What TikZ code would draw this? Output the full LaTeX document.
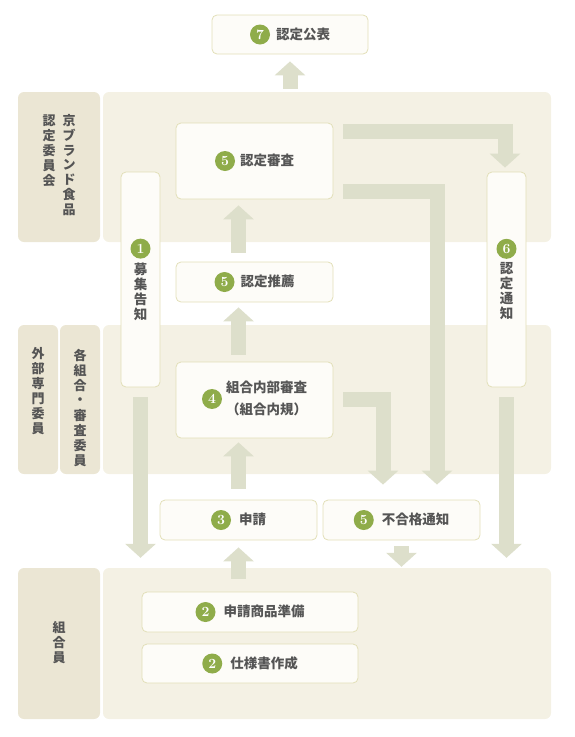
\documentclass[tikz,border=0pt]{standalone}
\usepackage{fontspec}
\newfontfamily\jpfont{Noto Sans CJK JP}
\usetikzlibrary{arrows.meta,positioning,calc}
\definecolor{bandBg}{RGB}{244,241,228}
\definecolor{labelBg}{RGB}{235,230,212}
\definecolor{flowGray}{RGB}{221,223,203}
\definecolor{boxLine}{RGB}{226,223,184}
\definecolor{boxFill}{RGB}{253,252,248}
\definecolor{leafGreen}{RGB}{143,172,74}
\definecolor{inkGray}{RGB}{85,85,85}
\newcommand{\badge}[1]{\tikz[baseline=(b.base)]\node[circle, fill=leafGreen,
  text=white, inner sep=0pt, minimum size=20pt,
  font=\rmfamily\fontsize{14}{14}\selectfont] (b) {#1};}
\newcommand{\vtext}[1]{\begin{tabular}[t]{@{}c@{}}#1\end{tabular}}

\begin{document}
\begin{tikzpicture}[x=1pt, y=-1pt,
  band/.style={rectangle, rounded corners=6pt, fill=bandBg, inner sep=0pt},
  lab/.style={rectangle, rounded corners=6pt, fill=labelBg, inner sep=0pt},
  labtxt/.style={inner sep=0pt, anchor=north, text=inkGray,
                 font=\jpfont\bfseries\fontsize{13}{14}\selectfont},
  stepbox/.style={rectangle, rounded corners=5pt, draw=boxLine,
                  line width=0.8pt, fill=boxFill, inner sep=0pt,
                  align=center, text=inkGray,
                  font=\jpfont\bfseries\fontsize{13.5}{15}\selectfont},
  flow/.style={draw=flowGray, line width=15pt, line join=miter,
               -{Triangle[length=14pt,width=30pt]}}
]
  \useasboundingbox (0,0) rectangle (575,737);
  % bands
  \node[band, minimum width=448, minimum height=150] (band1) at (327,167) {};
  \node[band, minimum width=448, minimum height=149] (band2) at (327,399.5) {};
  \node[band, minimum width=448, minimum height=151] (band3) at (327,643.5) {};
  \node[lab, minimum width=82, minimum height=150] (lab1) at (59,167) {};
  \node[lab, minimum width=40, minimum height=149] (lab2a) at (38,399.5) {};
  \node[lab, minimum width=40, minimum height=149] (lab2b) at (80,399.5) {};
  \node[lab, minimum width=82, minimum height=151] (lab3) at (59,643.5) {};
  \node[labtxt] (lab1t) at ($(lab1.north)+(0,22)$)
    {\vtext{認\\定\\委\\員\\会}\hspace{7pt}\vtext{京\\ブ\\ラ\\ン\\ド\\食\\品}};
  \node[labtxt] (lab2at) at ($(lab2a.north)+(0,22)$)
    {\vtext{外\\部\\専\\門\\委\\員}};
  \node[labtxt] (lab2bt) at ($(lab2b.north)+(0,24)$)
    {\vtext{各\\組\\合\\・\\審\\査\\委\\員}};
  \node[labtxt] (lab3t) at ($(lab3.north)+(0,53)$)
    {\vtext{組\\合\\員}};
  % steps
  \node[stepbox, minimum width=156, minimum height=39] (pub) at (290,34.5)
    {\badge{7}\hspace{6pt}認定公表};
  \node[stepbox, minimum width=157, minimum height=76] (rev) at (254.5,161)
    {\badge{5}\hspace{5pt}認定審査};
  \node[stepbox, minimum width=157, minimum height=40] (rec) at (254.5,282)
    {\badge{5}\hspace{6pt}認定推薦};
  \node[stepbox, minimum width=157, minimum height=76] (inner) at (254.5,400)
    {\badge{4}\hspace{4pt}\begin{tabular}{@{}c@{}}組合内部審査\\[5pt]（組合内規）\end{tabular}};
  \node[stepbox, minimum width=39, minimum height=215] (call) at (140.5,279.5)
    {\badge{1}\\[3pt]募\\集\\告\\知};
  \node[stepbox, minimum width=39, minimum height=215] (notice) at (506.5,279.5)
    {\badge{6}\\[3pt]認\\定\\通\\知};
  \node[stepbox, minimum width=157, minimum height=40] (apply) at (238.5,520)
    {\badge{3}\hspace{8pt}申請};
  \node[stepbox, minimum width=157, minimum height=40] (reject) at (401.5,520)
    {\badge{5}\hspace{8pt}不合格通知};
  \node[stepbox, minimum width=216, minimum height=40] (prep) at (250,612)
    {\badge{2}\hspace{8pt}申請商品準備};
  \node[stepbox, minimum width=216, minimum height=39] (spec) at (250,663.5)
    {\badge{2}\hspace{8pt}仕様書作成};
  % flows
  \draw[flow] ($(band1.north -| pub)+(0,-3)$) -- ($(pub.south)+(0,7)$);
  \foreach \a/\b/\s/\e in {rec/rev/9/6, inner/rec/7/5, apply/inner/11/4}
    \draw[flow] ($(\a.north -| apply)+(0,-\s)$) -- ($(\b.south -| apply)+(0,\e)$);
  \draw[flow] ($(apply |- band3.north)+(0,11)$) -- ($(apply.south)+(0,7)$);
  \foreach \a in {call, notice}
    \draw[flow] ($(\a.south)+(0,10)$) -- ($(\a.south |- band3.north)+(0,-10)$);
  \draw[flow] ($(reject.south)+(0,6)$) -- ($(reject.south |- band3.north)+(0,-1)$);
  \draw[flow] ($(rev.north east)+(10,9)$) -| ($(notice.north)+(-1.5,-4)$);
  \draw[flow] ($(rev.south east)+(10,-8)$) -| ($(reject.north)+(35.5,-15)$);
  \draw[flow] ($(inner.east)+(10,-1)$) -| ($(reject.north)+(-18.5,-15)$);
\end{tikzpicture}
\end{document}
